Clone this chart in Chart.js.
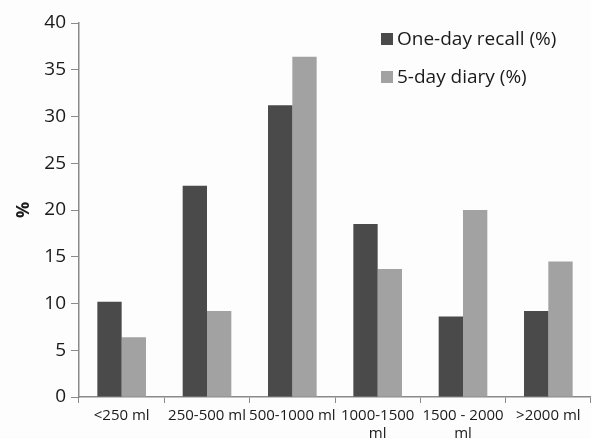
<!DOCTYPE html>
<html>
<head>
<meta charset="utf-8">
<script src="https://cdn.jsdelivr.net/npm/chart.js@4/dist/chart.umd.min.js"></script>
<style>
  html, body { margin: 0; padding: 0; background: #fdfdfd; }
  #wrap { width: 591px; height: 439px; }
</style>
</head>
<body>
<div id="wrap"><canvas id="c" width="591" height="439"></canvas></div>
<script>
// Fluid intake categories and the share of participants (%) in each
const categories = ['<250 ml', '250-500 ml', '500-1000 ml', ['1000-1500', 'ml'], ['1500 - 2000', 'ml'], '>2000 ml'];
const recallValues = [10.2, 22.6, 31.2, 18.5, 8.6, 9.2];
const diaryValues = [6.4, 9.2, 36.4, 13.7, 20.0, 14.5];
const yTicks = [0, 5, 10, 15, 20, 25, 30, 35, 40];

const FONT = '"Open Sans", "DejaVu Sans", sans-serif';
const AXIS = '#8a8a8a';

// legend drawn top-right inside the plot, stacked vertically
const legendPlugin = {
  id: 'sideLegend',
  afterDraw(chart) {
    const ctx = chart.ctx;
    ctx.save();
    ctx.font = '19px ' + FONT;
    ctx.textBaseline = 'middle';
    chart.data.datasets.forEach((ds, i) => {
      const y = 39 + i * 38;
      ctx.fillStyle = ds.backgroundColor;
      ctx.fillRect(381, y - 6, 12, 12);
      ctx.fillStyle = '#1a1a1a';
      ctx.fillText(ds.label, 397, y + 1);
    });
    ctx.restore();
  }
};

new Chart(document.getElementById('c'), {
  type: 'bar',
  data: {
    labels: categories,
    datasets: [
      { label: 'One-day recall (%)', data: recallValues, backgroundColor: '#4a4a4a', categoryPercentage: 0.57, barPercentage: 1 },
      { label: '5-day diary (%)', data: diaryValues, backgroundColor: '#a2a2a2', categoryPercentage: 0.57, barPercentage: 1 }
    ]
  },
  options: {
    responsive: false,
    animation: false,
    layout: { padding: { top: 23, right: 0, left: 0, bottom: 0 } },
    plugins: { legend: { display: false }, tooltip: { enabled: false } },
    scales: {
      x: {
        grid: { display: true, drawOnChartArea: false, offset: true, color: AXIS, tickLength: 6 },
        border: { color: AXIS, width: 1.5 },
        ticks: { color: '#1a1a1a', font: { family: FONT, size: 15 }, maxRotation: 0, autoSkip: false, padding: 4 },
        afterFit(s) { s.height = 42; }
      },
      y: {
        min: 0, max: 40,
        afterBuildTicks(s) { s.ticks = yTicks.map(v => ({ value: v })); },
        grid: { display: true, drawOnChartArea: false, color: AXIS, tickLength: 8 },
        border: { color: AXIS, width: 1.5 },
        ticks: { color: '#1a1a1a', font: { family: FONT, size: 19 }, padding: 5 },
        title: { display: true, text: '%', color: '#1a1a1a', font: { family: FONT, size: 18, weight: 'bold' }, padding: { top: 13, bottom: 0 } },
        afterFit(s) { s.width = 79; }
      }
    }
  },
  plugins: [legendPlugin]
});
</script>
</body>
</html>
